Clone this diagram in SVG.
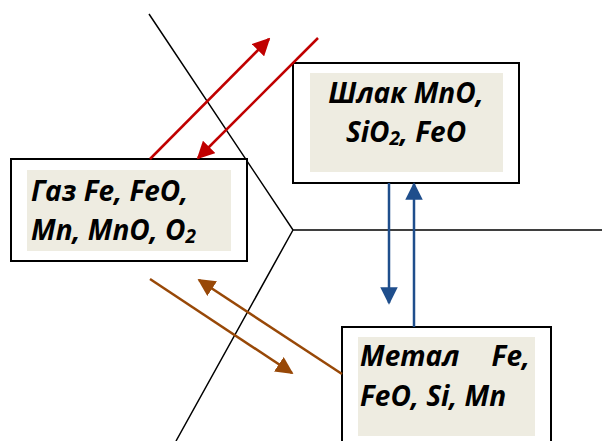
<svg xmlns="http://www.w3.org/2000/svg" width="602" height="441" viewBox="0 0 602 441">
<defs>
<style>
.box{fill:#fff;stroke:#000;stroke-width:2}
.fill{fill:#eeece1;stroke:none}
.t{font-family:"Open Sans","Noto Sans","DejaVu Sans",sans-serif;font-weight:bold;font-style:italic;font-size:28px;fill:#000}
.sub{font-size:19px}
.bound{fill:none;stroke:#000;stroke-width:1.5}
.red{stroke:#c00000;stroke-width:2.5;fill:none}
.blue{stroke:#1f4e8c;stroke-width:2.5;fill:none}
.brown{stroke:#984807;stroke-width:2.5;fill:none}
</style>
<marker id="hr" viewBox="0 0 10 10" refX="9" refY="5" markerWidth="7" markerHeight="7" markerUnits="strokeWidth" orient="auto"><path d="M0,0 L10,5 L0,10 z" fill="#c00000"/></marker>
<marker id="hb" viewBox="0 0 10 10" refX="9" refY="5" markerWidth="7" markerHeight="7" markerUnits="strokeWidth" orient="auto"><path d="M0,0 L10,5 L0,10 z" fill="#1f4e8c"/></marker>
<marker id="hn" viewBox="0 0 10 10" refX="9" refY="5" markerWidth="7" markerHeight="7" markerUnits="strokeWidth" orient="auto"><path d="M0,0 L10,5 L0,10 z" fill="#984807"/></marker>
</defs>
<rect width="602" height="441" fill="#fff"/>
<g id="boundaries">
<path class="bound" d="M149,14 L293,230 L602,230 M293,230 L176,441"/>
</g>
<g id="gas">
<rect class="box" x="11" y="159" width="236" height="102"/>
<rect class="fill" x="27" y="170" width="204" height="81"/>
<text class="t" x="31" y="201">Газ Fe, FeO,</text>
<text class="t" x="31" y="240">Mn, MnO, O<tspan class="sub" dy="3">2</tspan></text>
</g>
<g id="slag">
<rect class="box" x="293" y="63" width="226" height="120"/>
<rect class="fill" x="310" y="73" width="193" height="99"/>
<text class="t" x="406" y="103" text-anchor="middle">Шлак MnO,</text>
<text class="t" x="406" y="142" text-anchor="middle">SiO<tspan class="sub" dy="3">2</tspan><tspan dy="-3">, FeO</tspan></text>
</g>
<g id="metal">
<rect class="box" x="342" y="327" width="209" height="120"/>
<rect class="fill" x="358" y="337" width="177" height="99"/>
<text class="t" x="360" y="366">Метал<tspan x="530" text-anchor="end">Fe,</tspan></text>
<text class="t" x="360" y="406">FeO, Si, Mn</text>
</g>
<g id="connectors">
<line class="red" x1="150" y1="159" x2="269" y2="39" marker-end="url(#hr)"/>
<line class="red" x1="318" y1="38" x2="198" y2="158" marker-end="url(#hr)"/>
<line class="blue" x1="389" y1="183" x2="389" y2="303" marker-end="url(#hb)"/>
<line class="blue" x1="414" y1="327" x2="414" y2="184" marker-end="url(#hb)"/>
<line class="brown" x1="150" y1="279" x2="292" y2="373" marker-end="url(#hn)"/>
<line class="brown" x1="342" y1="374" x2="199" y2="280" marker-end="url(#hn)"/>
</g>
</svg>
